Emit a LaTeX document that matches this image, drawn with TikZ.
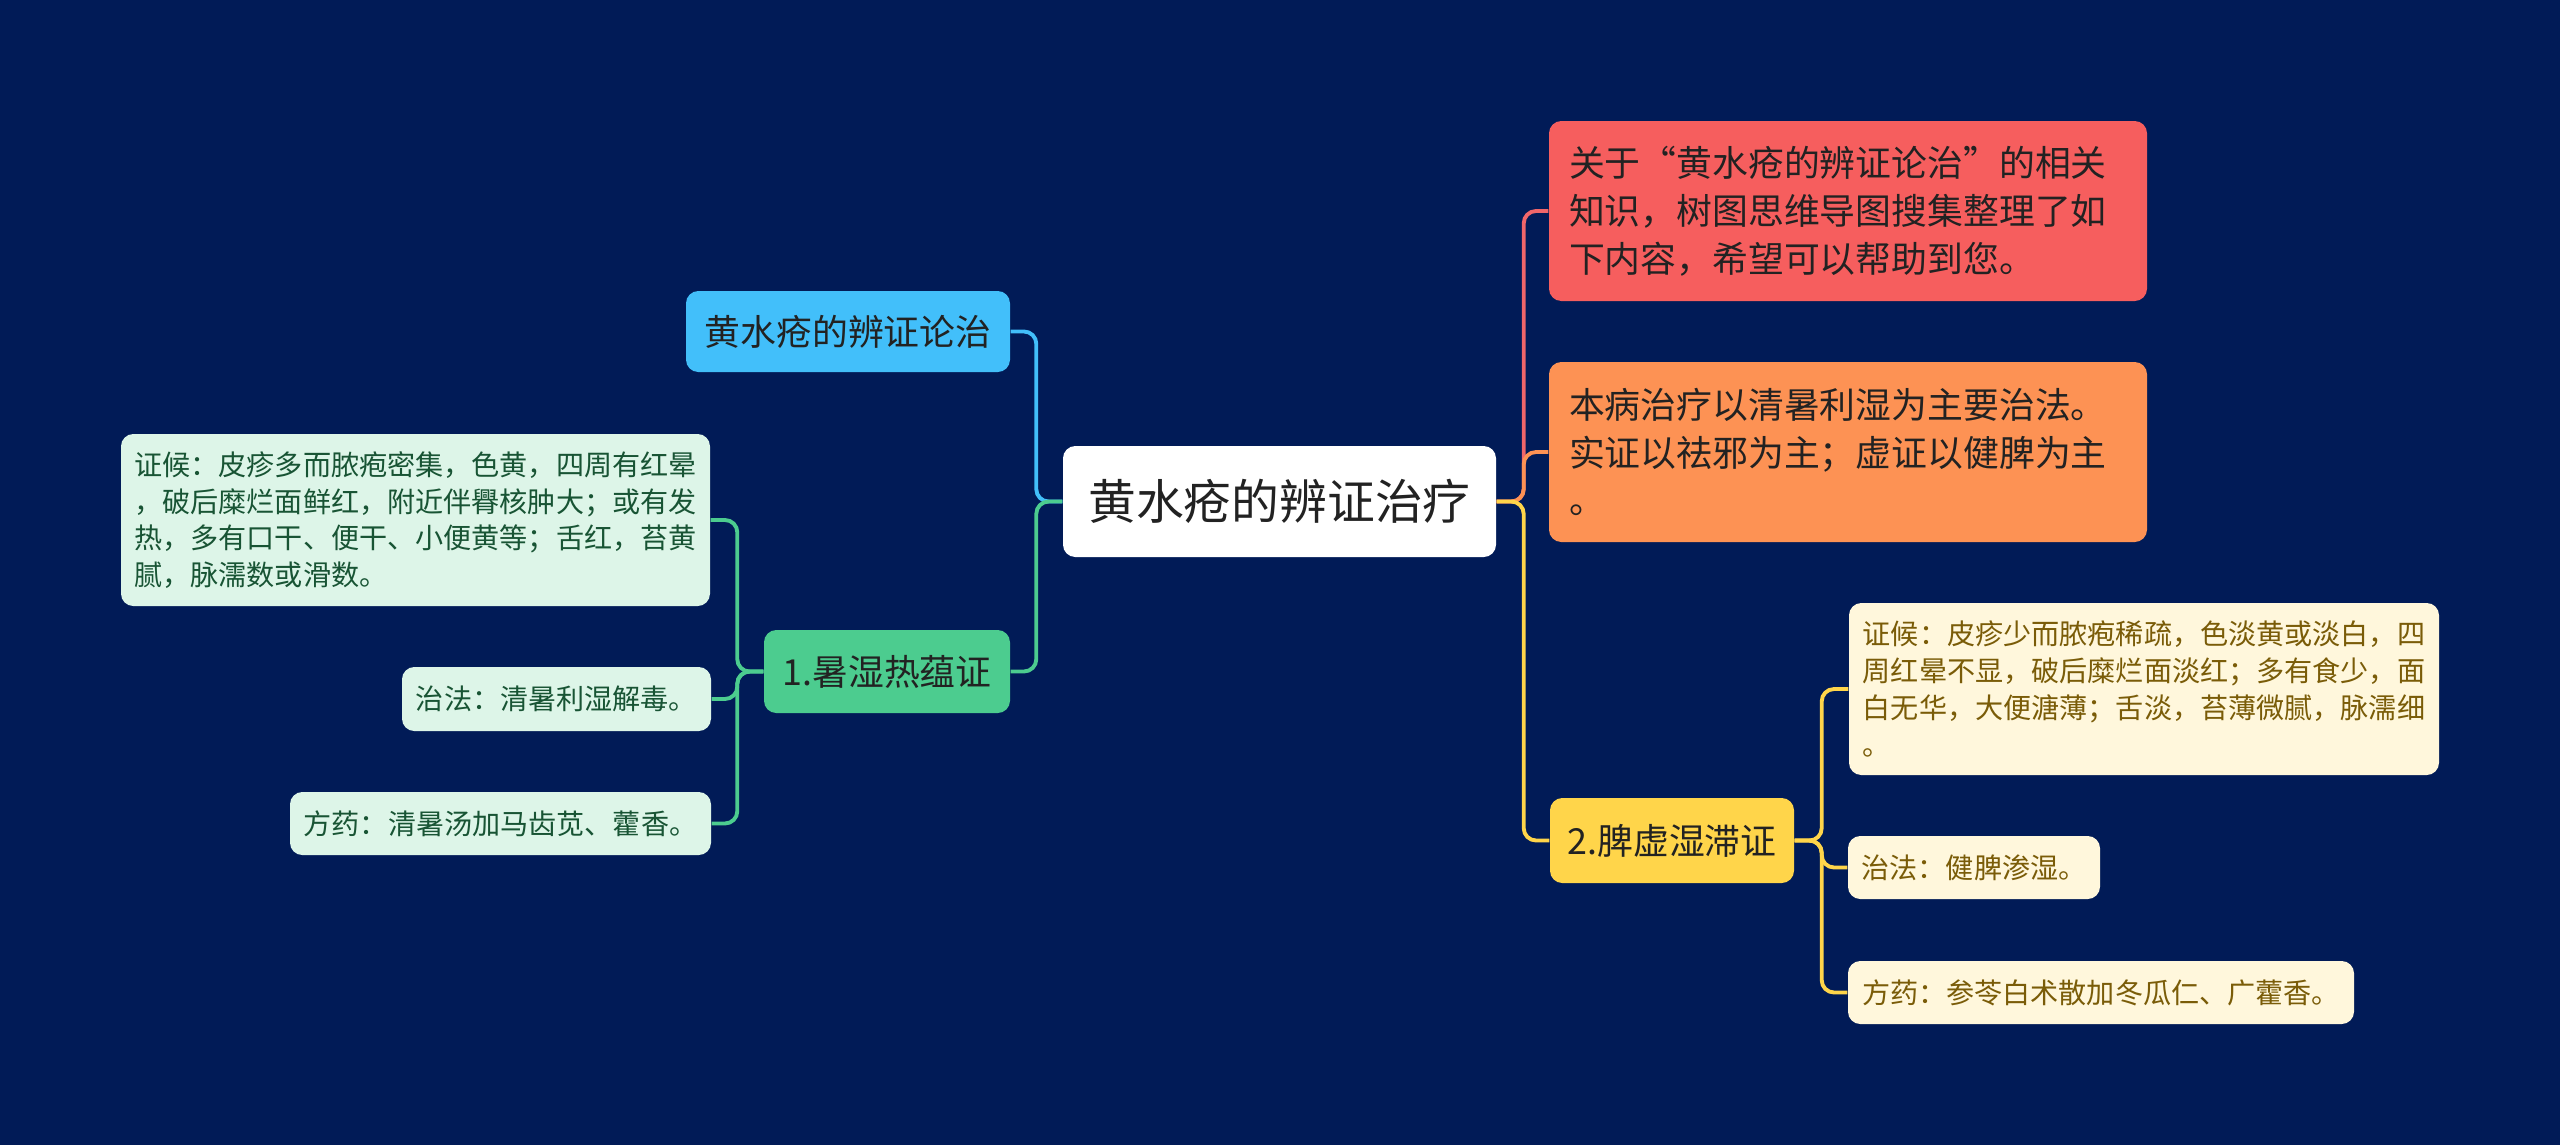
\documentclass[tikz,border=0pt]{standalone}
\usepackage{fontspec}
\setmainfont{Noto Sans CJK SC}
\definecolor{bgnavy}{RGB}{1,27,87}
\definecolor{skyblue}{RGB}{66,191,250}
\definecolor{mint}{RGB}{76,204,143}
\definecolor{mintpale}{RGB}{221,245,232}
\definecolor{mintdark}{RGB}{24,84,52}
\definecolor{coral}{RGB}{246,94,94}
\definecolor{coralline}{RGB}{240,102,106}
\definecolor{apricot}{RGB}{253,146,84}
\definecolor{sunny}{RGB}{255,213,74}
\definecolor{creampale}{RGB}{255,247,220}
\definecolor{olive}{RGB}{122,92,8}
\definecolor{inkdark}{RGB}{34,34,34}

\begin{document}
\begin{tikzpicture}[y=-1cm,
  box/.style={rounded corners=3.5pt, inner sep=0pt, align=left},
  rootbox/.style={box, fill=white, text=inkdark, font=\fontsize{13.6}{16}\selectfont, minimum width=4.33cm, minimum height=1.11cm},
  mainbox/.style={box, font=\fontsize{10.2}{13.6}\selectfont},
  notebox/.style={mainbox, text width=5.58cm, inner xsep=0.2cm, minimum height=1.8cm},
  greenleaf/.style={box, fill=mintpale, text=mintdark, font=\fontsize{8}{10.5}\selectfont},
  yellowleaf/.style={box, fill=creampale, text=olive, font=\fontsize{8}{10.5}\selectfont},
  link/.style={line width=1.1pt, rounded corners=3.5pt}
]
  \useasboundingbox (0,0) rectangle (25.6,11.45);
  \fill[bgnavy] (0,0) rectangle (25.6,11.45);

  % centre
  \node[rootbox] (root) at (12.795,5.015) {黄水疮的辨证治疗};

  % left side
  \node[mainbox, fill=skyblue, text=inkdark, minimum width=3.24cm, minimum height=0.81cm] (topic) at (8.48,3.315) {黄水疮的辨证论治};
  \node[mainbox, fill=mint, text=inkdark, minimum width=2.46cm, minimum height=0.83cm] (shire) at (8.87,6.715) {1.暑湿热蕴证};
  \node[greenleaf, minimum width=5.89cm, minimum height=1.72cm] (shireA) at (4.155,5.20) {证候：皮疹多而脓疱密集，色黄，四周有红晕\\，破后糜烂面鲜红，附近伴臖核肿大；或有发\\热，多有口干、便干、小便黄等；舌红，苔黄\\腻，脉濡数或滑数。};
  \node[greenleaf, minimum width=3.09cm, minimum height=0.64cm] (shireB) at (5.565,6.99) {治法：清暑利湿解毒。};
  \node[greenleaf, minimum width=4.21cm, minimum height=0.63cm] (shireC) at (5.005,8.235) {方药：清暑汤加马齿苋、藿香。};

  % right side
  \node[notebox, fill=coral, text=inkdark] (about) at (18.48,2.11) {关于“黄水疮的辨证论治”的相关\\知识，树图思维导图搜集整理了如\\下内容，希望可以帮助到您。};
  \node[notebox, fill=apricot, text=inkdark] (rule) at (18.48,4.52) {本病治疗以清暑利湿为主要治法。\\实证以祛邪为主；虚证以健脾为主\\。};
  \node[mainbox, fill=sunny, text=inkdark, minimum width=2.44cm, minimum height=0.85cm] (pixu) at (16.72,8.405) {2.脾虚湿滞证};
  \node[yellowleaf, minimum width=5.90cm, minimum height=1.72cm] (pixuA) at (21.44,6.89) {证候：皮疹少而脓疱稀疏，色淡黄或淡白，四\\周红晕不显，破后糜烂面淡红；多有食少，面\\白无华，大便溏薄；舌淡，苔薄微腻，脉濡细\\。};
  \node[yellowleaf, minimum width=2.52cm, minimum height=0.63cm] (pixuB) at (19.74,8.675) {治法：健脾渗湿。};
  \node[yellowleaf, minimum width=5.06cm, minimum height=0.63cm] (pixuC) at (21.01,9.925) {方药：参苓白术散加冬瓜仁、广藿香。};

  % connectors
  \draw[link, skyblue] (root.west) -- ++(-0.26,0) |- (topic.east);
  \draw[link, mint] (root.west) -- ++(-0.26,0) |- (shire.east);
  \draw[link, mint] (shire.west) -- ++(-0.26,0) |- (shireA.east);
  \draw[link, mint] (shire.west) -- ++(-0.26,0) |- (shireB.east);
  \draw[link, mint] (shire.west) -- ++(-0.26,0) |- (shireC.east);
  \draw[link, coralline] (root.east) -- ++(0.27,0) |- (about.west);
  \draw[link, apricot] (root.east) -- ++(0.27,0) |- (rule.west);
  \draw[link, sunny] (root.east) -- ++(0.27,0) |- (pixu.west);
  \draw[link, sunny] (pixu.east) -- ++(0.27,0) |- (pixuA.west);
  \draw[link, sunny] (pixu.east) -- ++(0.27,0) |- (pixuB.west);
  \draw[link, sunny] (pixu.east) -- ++(0.27,0) |- (pixuC.west);
\end{tikzpicture}
\end{document}
